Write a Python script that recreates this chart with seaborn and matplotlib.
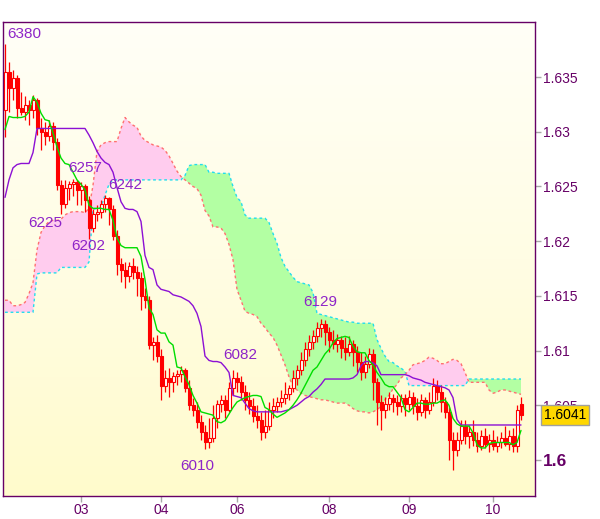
import numpy as np
import pandas as pd
import matplotlib
matplotlib.use("Agg")
import matplotlib.pyplot as plt
import matplotlib.transforms as mtrans
from matplotlib.colors import LinearSegmentedColormap
import seaborn as sns

# hourly candles
opens = [1.6320, 1.6355, 1.6340, 1.6349, 1.6322, 1.6318, 1.6324, 1.6320, 1.6329, 1.6303,
         1.6300, 1.6296, 1.6305, 1.6291, 1.6251, 1.6234, 1.6249, 1.6252, 1.6254, 1.6247,
         1.6250, 1.6238, 1.6212, 1.6225, 1.6227, 1.6234, 1.6239, 1.6229, 1.6205, 1.6179,
         1.6174, 1.6168, 1.6177, 1.6172, 1.6166, 1.6150, 1.6146, 1.6105, 1.6108, 1.6095,
         1.6068, 1.6075, 1.6071, 1.6077, 1.6079, 1.6082, 1.6066, 1.6050, 1.6046, 1.6035,
         1.6026, 1.6016, 1.6020, 1.6038, 1.6051, 1.6055, 1.6046, 1.6066, 1.6075, 1.6071,
         1.6062, 1.6055, 1.6049, 1.6040, 1.6037, 1.6026, 1.6031, 1.6046, 1.6049, 1.6053,
         1.6057, 1.6060, 1.6066, 1.6075, 1.6082, 1.6091, 1.6101, 1.6108, 1.6113, 1.6121,
         1.6124, 1.6117, 1.6110, 1.6106, 1.6110, 1.6102, 1.6099, 1.6106, 1.6099, 1.6090,
         1.6080, 1.6088, 1.6097, 1.6071, 1.6053, 1.6046, 1.6051, 1.6057, 1.6053, 1.6049,
         1.6057, 1.6051, 1.6058, 1.6049, 1.6044, 1.6055, 1.6046, 1.6053, 1.6068, 1.6062,
         1.6053, 1.6044, 1.6018, 1.6009, 1.6018, 1.6031, 1.6022, 1.6026, 1.6018, 1.6013,
         1.6022, 1.6015, 1.6018, 1.6013, 1.6016, 1.6020, 1.6015, 1.6022, 1.6013, 1.6051]
highs = [1.6380, 1.6364, 1.6356, 1.6352, 1.6336, 1.6333, 1.6329, 1.6334, 1.6331, 1.6313,
         1.6309, 1.6311, 1.6309, 1.6294, 1.6256, 1.6256, 1.6255, 1.6257, 1.6256, 1.6254,
         1.6252, 1.6241, 1.6229, 1.6233, 1.6238, 1.6242, 1.6240, 1.6233, 1.6210, 1.6185,
         1.6181, 1.6181, 1.6185, 1.6177, 1.6172, 1.6157, 1.6150, 1.6112, 1.6114, 1.6101,
         1.6082, 1.6084, 1.6080, 1.6082, 1.6086, 1.6084, 1.6073, 1.6057, 1.6053, 1.6041,
         1.6032, 1.6038, 1.6050, 1.6055, 1.6059, 1.6059, 1.6071, 1.6082, 1.6080, 1.6077,
         1.6069, 1.6062, 1.6057, 1.6050, 1.6044, 1.6046, 1.6053, 1.6057, 1.6058, 1.6064,
         1.6071, 1.6069, 1.6082, 1.6087, 1.6099, 1.6108, 1.6114, 1.6119, 1.6126, 1.6129,
         1.6128, 1.6122, 1.6119, 1.6115, 1.6113, 1.6112, 1.6113, 1.6110, 1.6104, 1.6099,
         1.6095, 1.6102, 1.6101, 1.6075, 1.6059, 1.6058, 1.6062, 1.6060, 1.6059, 1.6060,
         1.6060, 1.6064, 1.6062, 1.6057, 1.6060, 1.6058, 1.6062, 1.6075, 1.6073, 1.6069,
         1.6058, 1.6048, 1.6026, 1.6026, 1.6037, 1.6037, 1.6032, 1.6037, 1.6026, 1.6027,
         1.6029, 1.6024, 1.6027, 1.6022, 1.6026, 1.6031, 1.6027, 1.6029, 1.6050, 1.6058]
lows = [1.6295, 1.6318, 1.6329, 1.6313, 1.6315, 1.6311, 1.6306, 1.6313, 1.6297, 1.6283,
        1.6288, 1.6292, 1.6283, 1.6247, 1.6225, 1.6230, 1.6238, 1.6241, 1.6233, 1.6233,
        1.6227, 1.6202, 1.6208, 1.6218, 1.6221, 1.6227, 1.6215, 1.6201, 1.6169, 1.6163,
        1.6157, 1.6163, 1.6165, 1.6150, 1.6137, 1.6139, 1.6101, 1.6091, 1.6090, 1.6055,
        1.6062, 1.6058, 1.6062, 1.6069, 1.6071, 1.6062, 1.6046, 1.6040, 1.6029, 1.6018,
        1.6010, 1.6011, 1.6016, 1.6029, 1.6044, 1.6038, 1.6044, 1.6059, 1.6062, 1.6055,
        1.6046, 1.6042, 1.6035, 1.6029, 1.6018, 1.6020, 1.6027, 1.6038, 1.6044, 1.6048,
        1.6051, 1.6055, 1.6062, 1.6069, 1.6078, 1.6086, 1.6095, 1.6101, 1.6108, 1.6112,
        1.6105, 1.6099, 1.6101, 1.6099, 1.6093, 1.6091, 1.6095, 1.6086, 1.6080, 1.6073,
        1.6075, 1.6084, 1.6055, 1.6032, 1.6027, 1.6038, 1.6046, 1.6044, 1.6041, 1.6044,
        1.6040, 1.6046, 1.6042, 1.6037, 1.6040, 1.6038, 1.6042, 1.6049, 1.6055, 1.6044,
        1.6038, 1.6000, 1.5991, 1.6004, 1.6015, 1.6015, 1.6011, 1.6013, 1.6007, 1.6009,
        1.6011, 1.6007, 1.6009, 1.6007, 1.6011, 1.6013, 1.6009, 1.6007, 1.6007, 1.6037]
closes = [1.6355, 1.6340, 1.6349, 1.6322, 1.6318, 1.6324, 1.6320, 1.6329, 1.6303, 1.6300,
          1.6296, 1.6305, 1.6291, 1.6251, 1.6234, 1.6249, 1.6252, 1.6254, 1.6247, 1.6250,
          1.6238, 1.6212, 1.6225, 1.6227, 1.6234, 1.6239, 1.6229, 1.6205, 1.6179, 1.6174,
          1.6168, 1.6177, 1.6172, 1.6166, 1.6150, 1.6146, 1.6105, 1.6108, 1.6095, 1.6068,
          1.6075, 1.6071, 1.6077, 1.6079, 1.6082, 1.6066, 1.6050, 1.6046, 1.6035, 1.6026,
          1.6016, 1.6020, 1.6038, 1.6051, 1.6055, 1.6046, 1.6066, 1.6075, 1.6071, 1.6062,
          1.6055, 1.6049, 1.6040, 1.6037, 1.6026, 1.6031, 1.6046, 1.6049, 1.6053, 1.6057,
          1.6060, 1.6066, 1.6075, 1.6082, 1.6091, 1.6101, 1.6108, 1.6113, 1.6121, 1.6124,
          1.6117, 1.6110, 1.6106, 1.6110, 1.6102, 1.6099, 1.6106, 1.6099, 1.6090, 1.6080,
          1.6088, 1.6097, 1.6071, 1.6053, 1.6046, 1.6051, 1.6057, 1.6053, 1.6049, 1.6057,
          1.6051, 1.6058, 1.6049, 1.6044, 1.6055, 1.6046, 1.6053, 1.6068, 1.6062, 1.6053,
          1.6044, 1.6018, 1.6009, 1.6018, 1.6031, 1.6022, 1.6026, 1.6018, 1.6013, 1.6022,
          1.6015, 1.6018, 1.6013, 1.6016, 1.6020, 1.6015, 1.6022, 1.6013, 1.6046, 1.6041]

# ichimoku lines
tenkan = [1.6302, 1.6314, 1.6313, 1.6313, 1.6313, 1.6314, 1.6318, 1.6332, 1.6327, 1.6317,
          1.6311, 1.6310, 1.6299, 1.6286, 1.6276, 1.6271, 1.6270, 1.6263, 1.6256, 1.6252,
          1.6247, 1.6233, 1.6230, 1.6230, 1.6230, 1.6229, 1.6229, 1.6219, 1.6203, 1.6196,
          1.6194, 1.6194, 1.6194, 1.6194, 1.6186, 1.6165, 1.6139, 1.6133, 1.6119, 1.6116,
          1.6116, 1.6108, 1.6105, 1.6085, 1.6084, 1.6076, 1.6069, 1.6059, 1.6052, 1.6044,
          1.6043, 1.6042, 1.6041, 1.6035, 1.6034, 1.6036, 1.6042, 1.6048, 1.6053, 1.6055,
          1.6057, 1.6058, 1.6059, 1.6059, 1.6058, 1.6048, 1.6046, 1.6042, 1.6039, 1.6041,
          1.6043, 1.6046, 1.6050, 1.6055, 1.6061, 1.6068, 1.6075, 1.6082, 1.6085, 1.6091,
          1.6097, 1.6101, 1.6107, 1.6111, 1.6112, 1.6113, 1.6112, 1.6104, 1.6099, 1.6098,
          1.6098, 1.6091, 1.6087, 1.6080, 1.6075, 1.6069, 1.6067, 1.6067, 1.6062, 1.6057,
          1.6046, 1.6044, 1.6048, 1.6052, 1.6052, 1.6051, 1.6051, 1.6052, 1.6052, 1.6054,
          1.6055, 1.6050, 1.6038, 1.6033, 1.6031, 1.6031, 1.6031, 1.6025, 1.6014, 1.6011,
          1.6011, 1.6015, 1.6016, 1.6016, 1.6016, 1.6016, 1.6016, 1.6014, 1.6016, 1.6027]
kijun = [1.6240, 1.6256, 1.6267, 1.6270, 1.6271, 1.6271, 1.6271, 1.6281, 1.6303, 1.6303,
         1.6303, 1.6303, 1.6303, 1.6303, 1.6303, 1.6303, 1.6303, 1.6303, 1.6303, 1.6303,
         1.6303, 1.6297, 1.6290, 1.6282, 1.6276, 1.6272, 1.6270, 1.6263, 1.6249, 1.6236,
         1.6230, 1.6229, 1.6229, 1.6227, 1.6218, 1.6187, 1.6176, 1.6174, 1.6160, 1.6156,
         1.6155, 1.6154, 1.6151, 1.6150, 1.6149, 1.6147, 1.6145, 1.6141, 1.6134, 1.6122,
         1.6095, 1.6091, 1.6090, 1.6090, 1.6089, 1.6085, 1.6080, 1.6059, 1.6058, 1.6057,
         1.6052, 1.6047, 1.6045, 1.6044, 1.6044, 1.6044, 1.6044, 1.6044, 1.6044, 1.6044,
         1.6045, 1.6046, 1.6048, 1.6050, 1.6053, 1.6056, 1.6058, 1.6062, 1.6065, 1.6069,
         1.6074, 1.6074, 1.6074, 1.6074, 1.6074, 1.6074, 1.6074, 1.6075, 1.6078, 1.6086,
         1.6090, 1.6090, 1.6089, 1.6086, 1.6078, 1.6078, 1.6078, 1.6078, 1.6078, 1.6078,
         1.6078, 1.6077, 1.6075, 1.6074, 1.6073, 1.6071, 1.6070, 1.6069, 1.6068, 1.6067,
         1.6066, 1.6064, 1.6057, 1.6037, 1.6032, 1.6032, 1.6032, 1.6032, 1.6032, 1.6032,
         1.6032, 1.6032, 1.6032, 1.6032, 1.6032, 1.6032, 1.6032, 1.6032, 1.6032, 1.6032]
span_a = [1.6135, 1.6135, 1.6135, 1.6135, 1.6135, 1.6135, 1.6135, 1.6135, 1.6170, 1.6171,
          1.6171, 1.6171, 1.6171, 1.6171, 1.6176, 1.6176, 1.6176, 1.6176, 1.6176, 1.6176,
          1.6176, 1.6181, 1.6229, 1.6230, 1.6231, 1.6242, 1.6252, 1.6256, 1.6256, 1.6256,
          1.6256, 1.6256, 1.6256, 1.6256, 1.6256, 1.6256, 1.6256, 1.6256, 1.6256, 1.6256,
          1.6256, 1.6256, 1.6256, 1.6256, 1.6256, 1.6260, 1.6269, 1.6270, 1.6270, 1.6270,
          1.6270, 1.6263, 1.6263, 1.6262, 1.6262, 1.6262, 1.6262, 1.6250, 1.6240, 1.6236,
          1.6224, 1.6221, 1.6221, 1.6221, 1.6221, 1.6221, 1.6217, 1.6207, 1.6198, 1.6185,
          1.6177, 1.6172, 1.6167, 1.6163, 1.6162, 1.6161, 1.6160, 1.6153, 1.6134, 1.6133,
          1.6132, 1.6131, 1.6130, 1.6129, 1.6128, 1.6127, 1.6126, 1.6126, 1.6125, 1.6125,
          1.6125, 1.6125, 1.6125, 1.6110, 1.6102, 1.6095, 1.6090, 1.6089, 1.6086, 1.6084,
          1.6081, 1.6068, 1.6068, 1.6068, 1.6068, 1.6068, 1.6068, 1.6068, 1.6068, 1.6068,
          1.6068, 1.6068, 1.6068, 1.6068, 1.6068, 1.6068, 1.6074, 1.6074, 1.6074, 1.6074,
          1.6074, 1.6074, 1.6074, 1.6074, 1.6074, 1.6074, 1.6074, 1.6074, 1.6074, 1.6074]
span_b = [1.6146, 1.6146, 1.6141, 1.6141, 1.6142, 1.6144, 1.6152, 1.6162, 1.6192, 1.6208,
          1.6214, 1.6218, 1.6219, 1.6219, 1.6220, 1.6224, 1.6226, 1.6227, 1.6227, 1.6227,
          1.6226, 1.6230, 1.6251, 1.6282, 1.6288, 1.6290, 1.6291, 1.6291, 1.6291, 1.6303,
          1.6313, 1.6309, 1.6306, 1.6304, 1.6296, 1.6292, 1.6290, 1.6288, 1.6287, 1.6286,
          1.6283, 1.6278, 1.6271, 1.6264, 1.6259, 1.6256, 1.6253, 1.6250, 1.6248, 1.6242,
          1.6228, 1.6223, 1.6213, 1.6213, 1.6212, 1.6207, 1.6197, 1.6183, 1.6156, 1.6146,
          1.6136, 1.6134, 1.6133, 1.6131, 1.6125, 1.6121, 1.6116, 1.6112, 1.6105, 1.6096,
          1.6087, 1.6076, 1.6067, 1.6064, 1.6061, 1.6059, 1.6058, 1.6057, 1.6056, 1.6055,
          1.6055, 1.6054, 1.6053, 1.6052, 1.6052, 1.6052, 1.6050, 1.6047, 1.6045, 1.6044,
          1.6044, 1.6043, 1.6044, 1.6046, 1.6049, 1.6055, 1.6059, 1.6065, 1.6069, 1.6075,
          1.6078, 1.6082, 1.6087, 1.6088, 1.6089, 1.6091, 1.6094, 1.6093, 1.6091, 1.6088,
          1.6088, 1.6090, 1.6092, 1.6091, 1.6088, 1.6080, 1.6071, 1.6071, 1.6071, 1.6071,
          1.6071, 1.6064, 1.6061, 1.6062, 1.6064, 1.6064, 1.6063, 1.6062, 1.6061, 1.6060]

day_ticks = [19, 39, 58, 81, 101, 122]
day_labels = ["03", "04", "06", "08", "09", "10"]

zz_idx = [0, 14, 17, 21, 25, 50, 57, 79]
zz_labels = ["6380", "6225", "6257", "6202", "6242", "6010", "6082", "6129"]
zz_price = [1.6380, 1.6225, 1.6257, 1.6202, 1.6242, 1.6010, 1.6082, 1.6129]
zz_offset = [(14, 7), (-11.5, -6.5), (8.6, 7.9), (-0.7, -4.8), (14.4, 7.2),
             (-5.8, -12.2), (5, 10.8), (-0.7, 12.2)]

last_price = 1.6041
yticks = [1.6, 1.605, 1.61, 1.615, 1.62, 1.625, 1.63, 1.635]
ytick_labels = ["1.6", "1.605", "1.61", "1.615", "1.62", "1.625", "1.63", "1.635"]

df = pd.DataFrame({"open": opens, "high": highs, "low": lows, "close": closes,
                   "tenkan": tenkan, "kijun": kijun, "span_a": span_a, "span_b": span_b})
df["idx"] = np.arange(len(df))

sns.set_style("white")
plt.rcParams["font.family"] = ["Liberation Sans", "DejaVu Sans"]

fig = plt.figure(figsize=(6, 5.19), dpi=100)
ax = fig.add_axes([3 / 600, 1 - 496 / 519, 532 / 600, 474 / 519])

xmin, xmax = -0.5, 132.5
ymin, ymax = 1.59671, 1.64003

# background gradient
grad = np.linspace(0, 1, 256).reshape(-1, 1)
bg = LinearSegmentedColormap.from_list("bg", ["#FFFFF7", "#FFFDE4", "#FFFBCC"])
ax.imshow(grad, extent=[xmin, xmax, ymin, ymax], origin="upper", aspect="auto",
          cmap=bg, zorder=0)

# cloud
a = df["span_a"].values
b = df["span_b"].values
x = df["idx"].values
ax.fill_between(x, a, b, where=a >= b, interpolate=True, color="#B3FFA3", lw=0, zorder=1)
ax.fill_between(x, a, b, where=a < b, interpolate=True, color="#FFCCEE", lw=0, zorder=1)
ax.plot(x, a, color="#22DDEE", lw=1, ls=(0, (2, 2)), zorder=2)
ax.plot(x, b, color="#FF7070", lw=1, ls=(0, (2, 2)), zorder=2)

# candles
bull = df["close"] >= df["open"]
ax.vlines(x, df["low"], df["high"], color="#FF0000", lw=0.9, zorder=3)
body_lo = np.minimum(df["open"], df["close"])
body_h = np.maximum(np.abs(df["close"] - df["open"]), 0.00005)
ax.bar(x[bull], body_h[bull], bottom=body_lo[bull], width=0.75,
       color="white", edgecolor="#FF0000", lw=0.8, zorder=4)
ax.bar(x[~bull], body_h[~bull], bottom=body_lo[~bull], width=0.75,
       color="#FF0000", edgecolor="#FF0000", lw=0.8, zorder=4)

# tenkan / kijun
sns.lineplot(data=df, x="idx", y="kijun", ax=ax, color="#8C10D4", lw=1, zorder=5)
sns.lineplot(data=df, x="idx", y="tenkan", ax=ax, color="#00DD00", lw=1, zorder=5)

# zigzag labels
for i, lab, p, off in zip(zz_idx, zz_labels, zz_price, zz_offset):
    ax.annotate(lab, xy=(i, p), xytext=off, textcoords="offset points",
                ha="center", va="center", fontsize=11, color="#8E24C8", zorder=6)

ax.set_xlim(xmin, xmax)
ax.set_ylim(ymin, ymax)
ax.set_xlabel("")
ax.set_ylabel("")

ax.yaxis.tick_right()
ax.set_yticks(yticks)
ax.set_yticklabels(ytick_labels)
ax.set_xticks(day_ticks)
ax.set_xticklabels(day_labels)
ax.tick_params(axis="both", direction="out", length=4, width=1, color="#A8A8A8",
               labelcolor="#660066", labelsize=10, pad=2)
ax.tick_params(axis="y", right=True, left=False)
ax.tick_params(axis="x", bottom=True, pad=1)
lab0 = ax.get_yticklabels()[0]
lab0.set_fontweight("bold")
lab0.set_fontsize(12.5)

for s in ax.spines.values():
    s.set_color("#660066")
    s.set_linewidth(1)
    s.set_visible(True)

# last price tag
tr = mtrans.blended_transform_factory(ax.transAxes, ax.transData)
ax.text(1.016, last_price, "1.6041", transform=tr, ha="left", va="center",
        fontsize=10, color="black", zorder=10, clip_on=False,
        bbox=dict(boxstyle="square,pad=0.2", fc="#FFD700", ec="#A0A0A0", lw=1))

fig.savefig("out.png", dpi=100, facecolor="white")
